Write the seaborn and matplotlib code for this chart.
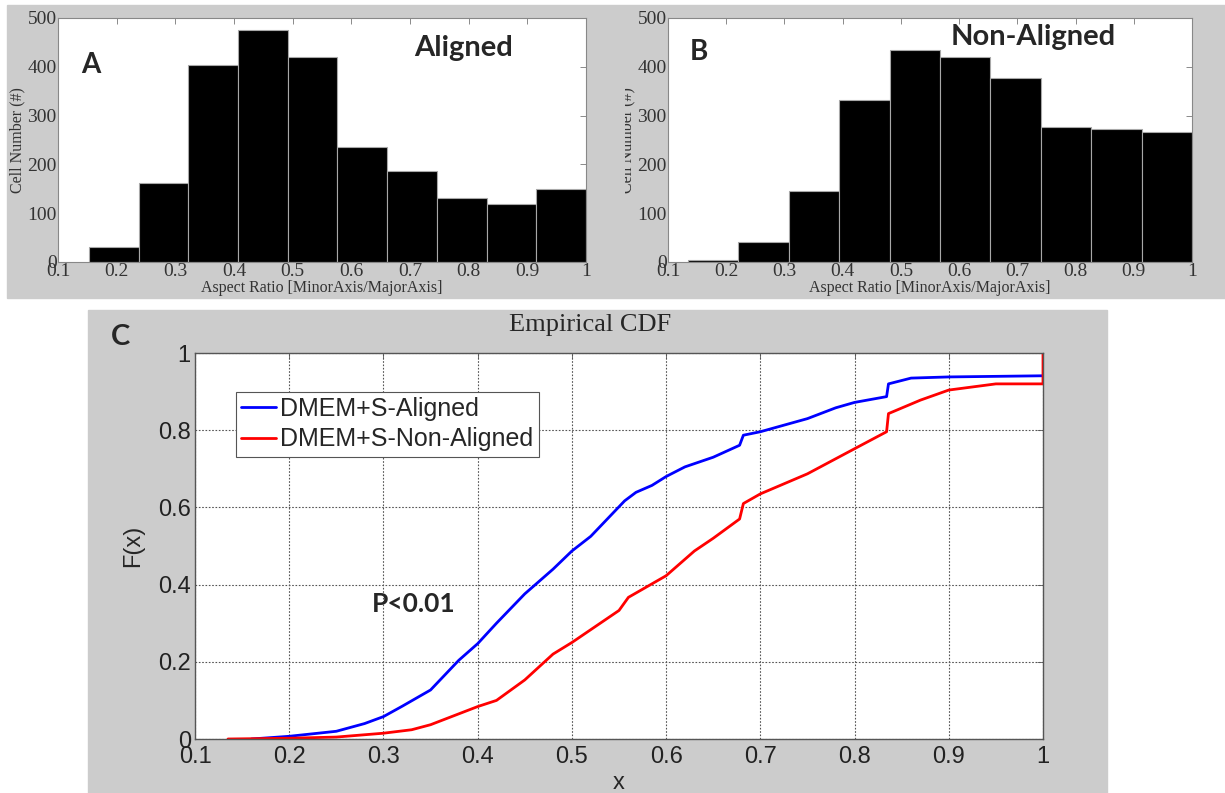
import matplotlib
matplotlib.use("Agg")
import matplotlib.pyplot as plt
import seaborn as sns
import numpy as np
import pandas as pd
from matplotlib.patches import Rectangle
from matplotlib.transforms import Bbox, TransformedBbox

# Histogram data (bin edges / counts)
aligned_edges = [0.153, 0.238, 0.322, 0.407, 0.492, 0.576, 0.661, 0.746, 0.831, 0.915, 1.0]
aligned_counts = [30, 161, 404, 475, 420, 236, 186, 131, 118, 150]
nonaligned_edges = [0.134, 0.221, 0.308, 0.394, 0.481, 0.567, 0.653, 0.740, 0.827, 0.914, 1.0]
nonaligned_counts = [5, 40, 146, 331, 434, 421, 378, 277, 273, 266]

# Empirical CDF curves
cdf_aligned_x = [0.16, 0.2, 0.25, 0.28, 0.3, 0.32, 0.35, 0.38, 0.4, 0.42, 0.45, 0.48, 0.5, 0.52,
                 0.556, 0.568, 0.585, 0.6, 0.62, 0.65, 0.678, 0.682, 0.7, 0.75, 0.78, 0.8,
                 0.834, 0.836, 0.86, 0.9, 1.0]
cdf_aligned_f = [0.0, 0.007, 0.02, 0.04, 0.058, 0.085, 0.127, 0.204, 0.247, 0.30, 0.376, 0.44, 0.487, 0.525,
                 0.617, 0.639, 0.657, 0.68, 0.705, 0.73, 0.761, 0.787, 0.796, 0.83, 0.858, 0.872,
                 0.887, 0.92, 0.935, 0.938, 0.941]
cdf_nonaligned_x = [0.135, 0.2, 0.25, 0.3, 0.33, 0.35, 0.4, 0.42, 0.45, 0.48, 0.5, 0.55, 0.56, 0.6,
                    0.63, 0.65, 0.678, 0.682, 0.7, 0.75, 0.8, 0.834, 0.836, 0.87, 0.9, 0.95, 1.0, 1.0]
cdf_nonaligned_f = [0.0, 0.002, 0.005, 0.015, 0.024, 0.037, 0.084, 0.10, 0.153, 0.22, 0.25, 0.333, 0.367, 0.423,
                    0.487, 0.52, 0.57, 0.61, 0.635, 0.687, 0.752, 0.796, 0.843, 0.878, 0.904, 0.92, 0.92, 1.0]

x_ticks = [0.1, 0.2, 0.3, 0.4, 0.5, 0.6, 0.7, 0.8, 0.9, 1.0]
x_tick_labels = ["0.1", "0.2", "0.3", "0.4", "0.5", "0.6", "0.7", "0.8", "0.9", "1"]
hist_y_ticks = [0, 100, 200, 300, 400, 500]
cdf_y_ticks = [0, 0.2, 0.4, 0.6, 0.8, 1.0]
cdf_y_labels = ["0", "0.2", "0.4", "0.6", "0.8", "1"]

sns.set_style("white")
plt.rcParams["font.family"] = ["Liberation Sans", "DejaVu Sans"]

W, H = 1225, 793
fig = plt.figure(figsize=(W / 100, H / 100), dpi=100)
fig.patch.set_facecolor("white")

gray = "#cccccc"
# MATLAB figure backgrounds
fig.patches.append(Rectangle((7 / W, 1 - 298 / H), (W - 7) / W, 293 / H,
                             transform=fig.transFigure, color=gray, zorder=-10))
fig.patches.append(Rectangle((88 / W, 0), (1107 - 88) / W, (793 - 310) / H,
                             transform=fig.transFigure, color=gray, zorder=-10))

serif = "Liberation Serif"
bold_font = "Lato"


def hist_panel(rect, edges, counts):
    ax = fig.add_axes(rect)
    ax.set_facecolor("white")
    e = np.array(edges)
    centers = (e[:-1] + e[1:]) / 2
    df = pd.DataFrame({"ratio": centers, "n": counts})
    sns.histplot(data=df, x="ratio", weights="n", bins=list(edges), ax=ax, color="black",
                 edgecolor="#a8a8a8", linewidth=0.8, alpha=1)
    ax.set_xlim(0.1, 1.0)
    ax.set_ylim(0, 500)
    ax.set_xticks(x_ticks)
    ax.set_xticklabels(x_tick_labels, fontfamily=serif, fontsize=14, color="#333333")
    ax.set_yticks(hist_y_ticks)
    ax.set_yticklabels([str(v) for v in hist_y_ticks], fontfamily=serif, fontsize=14, color="#333333")
    ax.tick_params(direction="in", top=True, right=True, length=4, width=0.6,
                   color="#777777", pad=1)
    for s in ax.spines.values():
        s.set_color("#888888")
        s.set_linewidth(0.8)
    ax.set_xlabel("Aspect Ratio [MinorAxis/MajorAxis]", fontfamily=serif, fontsize=11.5,
                  color="#333333", labelpad=0)
    ax.set_ylabel("Cell Number (#)", fontfamily=serif, fontsize=11.5, color="#333333", labelpad=1)
    return ax


axA = hist_panel([58 / W, 1 - 262 / H, 528 / W, 244 / H], aligned_edges, aligned_counts)
axB = hist_panel([668 / W, 1 - 262 / H, 524 / W, 244 / H], nonaligned_edges, nonaligned_counts)

# B's y label is partly hidden in the original
clip = TransformedBbox(Bbox.from_extents(625 / W, 0, 1, 1), fig.transFigure)
axB.yaxis.label.set_clip_box(clip)
axB.yaxis.label.set_clip_on(True)

fig.text(91 / W, 1 - 65 / H, "A", fontfamily=bold_font, fontweight="bold", fontsize=20,
         ha="center", va="center")
fig.text(464 / W, 1 - 48 / H, "Aligned", fontfamily=bold_font, fontweight="bold", fontsize=21,
         ha="center", va="center")
fig.text(699 / W, 1 - 52 / H, "B", fontfamily=bold_font, fontweight="bold", fontsize=20,
         ha="center", va="center")
fig.text(1033 / W, 1 - 37 / H, "Non-Aligned", fontfamily=bold_font, fontweight="bold", fontsize=21,
         ha="center", va="center")

# Panel C: empirical CDF
axC = fig.add_axes([195 / W, 1 - 739 / H, 848 / W, 386 / H])
axC.set_facecolor("white")
sns.lineplot(x=cdf_aligned_x, y=cdf_aligned_f, ax=axC, color="#0000ff", linewidth=2,
             sort=False, estimator=None, label="DMEM+S-Aligned")
sns.lineplot(x=cdf_nonaligned_x, y=cdf_nonaligned_f, ax=axC, color="#ff0000", linewidth=2,
             sort=False, estimator=None, label="DMEM+S-Non-Aligned")
axC.set_xlim(0.1, 1.0)
axC.set_ylim(0, 1.0)
axC.set_xticks(x_ticks)
axC.set_xticklabels(x_tick_labels, fontsize=17, color="#222222")
axC.set_yticks(cdf_y_ticks)
axC.set_yticklabels(cdf_y_labels, fontsize=17, color="#222222")
axC.tick_params(axis="x", direction="in", top=True, length=4, width=0.6, color="#555555", pad=5)
axC.tick_params(axis="y", direction="in", right=True, length=4, width=0.6, color="#555555", pad=3)
axC.grid(True, linestyle=(0, (1.5, 1.5)), color="#555555", linewidth=0.8)
for s in axC.spines.values():
    s.set_color("#555555")
    s.set_linewidth(1)
axC.set_xlabel("x", fontsize=17, labelpad=3)
axC.set_ylabel("F(x)", fontsize=17, labelpad=10)

leg = axC.legend(loc="upper left", bbox_to_anchor=(0.048, 0.90), borderaxespad=0, fontsize=18,
                 frameon=True, fancybox=False, framealpha=1, edgecolor="#555555",
                 handlelength=1.4, handletextpad=0.15, borderpad=0.22, labelspacing=0.25)
leg.get_frame().set_linewidth(0.8)

axC.text(0.332, 0.35, "P<0.01", fontfamily=bold_font, fontweight="bold", fontsize=19,
         ha="center", va="center")
fig.text(590 / W, 1 - 325 / H, "Empirical CDF", fontfamily=serif, fontsize=19,
         ha="center", va="center")
fig.text(120 / W, 1 - 337 / H, "C", fontfamily=bold_font, fontweight="bold", fontsize=21,
         ha="center", va="center")

fig.savefig("out.png", dpi=100)
